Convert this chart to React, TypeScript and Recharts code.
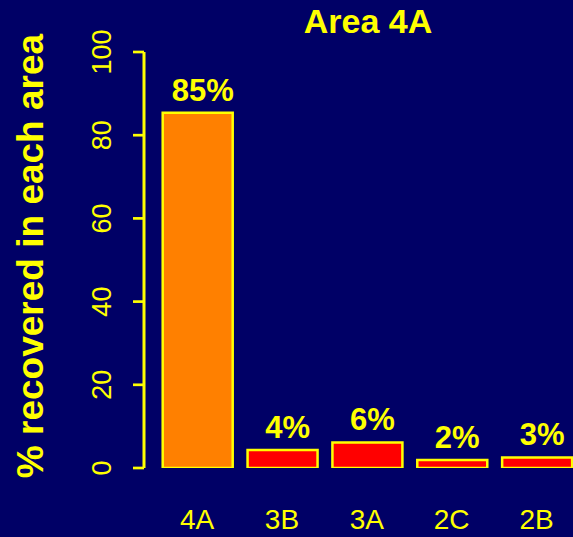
import React from "react";
import { BarChart, Bar, XAxis, YAxis, Cell, LabelList } from "recharts";

const categories = ["4A", "3B", "3A", "2C", "2B"];
const recovered = [85.4, 4.3, 6.15, 1.92, 2.55];
const valueLabels = ["85%", "4%", "6%", "2%", "3%"];
const barColors = ["#FF8000", "#FF0000", "#FF0000", "#FF0000", "#FF0000"];
const yTicks = [0, 20, 40, 60, 80, 100];
const title = "Area 4A";
const yTitle = "% recovered in each area";

const data = categories.map((c, i) => ({ name: c, value: recovered[i], label: valueLabels[i] }));

const BG = "#000066";
const YEL = "#FFFF00";
const FONT = "'Liberation Sans', Arial, sans-serif";

const YTick = (props: any) => {
  const { x, y, payload } = props;
  return (
    <text
      x={x - 20}
      y={y}
      transform={`rotate(-90, ${x - 20}, ${y})`}
      textAnchor="middle"
      fill={YEL}
      fontSize={27}
      fontFamily={FONT}
    >
      {payload.value}
    </text>
  );
};

const XTick = (props: any) => {
  const { x, payload } = props;
  return (
    <text x={x - 1} y={529} textAnchor="middle" fill={YEL} fontSize={28} fontFamily={FONT}>
      {payload.value}
    </text>
  );
};

const ValueLabel = (props: any) => {
  const { x, y, width, value } = props;
  return (
    <text
      x={x + width / 2 + 5}
      y={y - 12}
      textAnchor="middle"
      fill={YEL}
      fontSize={31}
      fontWeight="bold"
      fontFamily={FONT}
    >
      {value}
    </text>
  );
};

export default function App() {
  return (
    <div
      style={{
        position: "fixed",
        left: 0,
        top: 0,
        width: 573,
        height: 537,
        overflow: "hidden",
        background: BG,
      }}
    >
      <BarChart
        width={600}
        height={537}
        data={data}
        margin={{ top: 52, right: 20, bottom: 0, left: 0 }}
        barSize={70}
      >
        <text
          x={368}
          y={33}
          textAnchor="middle"
          fill={YEL}
          fontSize={34}
          fontWeight="bold"
          fontFamily={FONT}
        >
          {title}
        </text>
        <text
          x={43}
          y={256}
          transform="rotate(-90, 43, 256)"
          textAnchor="middle"
          fill={YEL}
          fontSize={37}
          fontWeight="bold"
          fontFamily={FONT}
        >
          {yTitle}
        </text>
        <XAxis
          dataKey="name"
          axisLine={false}
          tickLine={false}
          height={69}
          padding={{ left: 11.7, right: 0 }}
          tick={<XTick />}
          interval={0}
        />
        <YAxis
          width={144}
          domain={[0, 100]}
          ticks={yTicks}
          interval={0}
          axisLine={{ stroke: YEL, strokeWidth: 3 }}
          tickLine={{ stroke: YEL, strokeWidth: 2.7 }}
          tickSize={11}
          tick={<YTick />}
          allowDataOverflow
        />
        <Bar dataKey="value" stroke={YEL} strokeWidth={2.5} isAnimationActive={false}>
          {data.map((d, i) => (
            <Cell key={d.name} fill={barColors[i]} />
          ))}
          <LabelList dataKey="label" content={<ValueLabel />} />
        </Bar>
      </BarChart>
    </div>
  );
}
